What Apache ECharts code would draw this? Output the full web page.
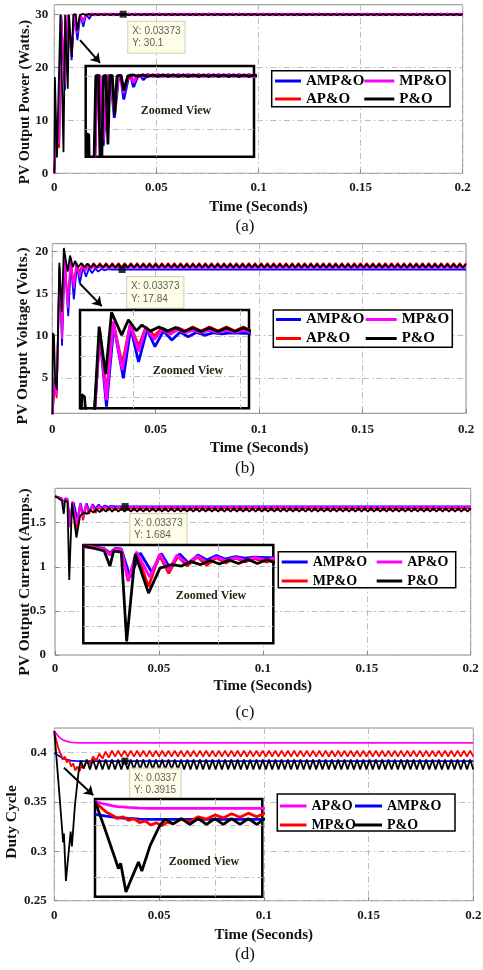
<!DOCTYPE html>
<html><head><meta charset="utf-8">
<script src="https://cdn.jsdelivr.net/npm/echarts@6.0.0/dist/echarts.min.js"></script>
<style>html,body{margin:0;padding:0;background:#fff}#c{width:483px;height:970px}</style>
</head><body><div id="c"></div>
<script>
// ================= DATA (time in ms, shown on axis as seconds) =================
// shared steady-state sample times (ms)
const tSS = [
29,30.5,32,33.5,35,36.5,38,39.5,41,42.5,
44,45.5,47,48.5,50,51.5,53,54.5,56,57.5,
59,60.5,62,63.5,65,66.5,68,69.5,71,72.5,
74,75.5,77,78.5,80,81.5,83,84.5,86,87.5,
89,90.5,92,93.5,95,96.5,98,99.5,101,102.5,
104,105.5,107,108.5,110,111.5,113,114.5,116,117.5,
119,120.5,122,123.5,125,126.5,128,129.5,131,132.5,
134,135.5,137,138.5,140,141.5,143,144.5,146,147.5,
149,150.5,152,153.5,155,156.5,158,159.5,161,162.5,
164,165.5,167,168.5,170,171.5,173,174.5,176,177.5,
179,180.5,182,183.5,185,186.5,188,189.5,191,192.5,
194,195.5,197,198.5,200];

// ---- (a) PV output power (W) ----
const aBlueTr = [[0,0],[1,7],[2.4,6.2],[3.4,30],[4.2,30],[5.2,15.7],[6.6,30],[7.4,30.1],[8.5,21.4],[9.8,30],[10.4,30.1],[11.3,25.2],[12.8,30],[13.4,30.1],[14.2,27.7],[15.6,30.1],[16.3,30.1],[17.1,29.2],[18.4,30.1],[20,30],[200,30]];
const aRedTr = [[0,0],[1,6],[2.4,4.8],[3.3,30],[4.2,30],[5.2,17],[6.5,30],[7.4,30],[8.5,23],[9.7,30],[10.4,30],[11.3,27],[12.6,30],[14.2,29],[15.5,30],[200,30]];
const aMagTr = [[0,0],[1,7],[2.4,5.8],[3.3,30],[4.2,30.1],[5.2,16.8],[6.5,30],[7.4,30.1],[8.5,22.5],[9.7,30],[10.4,30.1],[11.3,26.5],[12.6,30.1],[13.4,30.2],[14.2,28.6],[15.5,30.2],[17,29.8],[18.5,30.3],[20,29.85],[21.5,30.3],[23,29.85],[24.5,30.3],[26,29.85],[27.5,30.3]];
const aBlkTr = [[0,0],[0.3,18.2],[0.9,18],[1.3,3],[2.2,3.2],[3,30],[3.8,30.1],[4.5,4],[5.3,30],[6,30.1],[6.6,16],[7.2,30],[7.9,30.1],[8.6,22],[9.3,30],[10.5,30.1],[11.3,27],[12.5,29.9],[14,30.2],[15.5,29.9],[17,30.2],[18.5,29.9],[20,30.2],[21.5,29.9],[23,30.2],[24.5,29.9],[26,30.2],[27.5,29.9]];
const aMagSS = [
29.85,30.3,29.85,30.3,29.85,30.3,29.85,30.3,29.85,30.3,
29.85,30.3,29.85,30.3,29.85,30.3,29.85,30.3,29.85,30.3,
29.85,30.3,29.85,30.3,29.85,30.3,29.85,30.3,29.85,30.3,
29.85,30.3,29.85,30.3,29.85,30.3,29.85,30.3,29.85,30.3,
29.85,30.3,29.85,30.3,29.85,30.3,29.85,30.3,29.85,30.3,
29.85,30.3,29.85,30.3,29.85,30.3,29.85,30.3,29.85,30.3,
29.85,30.3,29.85,30.3,29.85,30.3,29.85,30.3,29.85,30.3,
29.85,30.3,29.85,30.3,29.85,30.3,29.85,30.3,29.85,30.3,
29.85,30.3,29.85,30.3,29.85,30.3,29.85,30.3,29.85,30.3,
29.85,30.3,29.85,30.3,29.85,30.3,29.85,30.3,29.85,30.3,
29.85,30.3,29.85,30.3,29.85,30.3,29.85,30.3,29.85,30.3,
29.85,30.3,29.85,30.3,29.85];
const aBlkSS = [
30.2,29.9,30.2,29.9,30.2,29.9,30.2,29.9,30.2,29.9,
30.2,29.9,30.2,29.9,30.2,29.9,30.2,29.9,30.2,29.9,
30.2,29.9,30.2,29.9,30.2,29.9,30.2,29.9,30.2,29.9,
30.2,29.9,30.2,29.9,30.2,29.9,30.2,29.9,30.2,29.9,
30.2,29.9,30.2,29.9,30.2,29.9,30.2,29.9,30.2,29.9,
30.2,29.9,30.2,29.9,30.2,29.9,30.2,29.9,30.2,29.9,
30.2,29.9,30.2,29.9,30.2,29.9,30.2,29.9,30.2,29.9,
30.2,29.9,30.2,29.9,30.2,29.9,30.2,29.9,30.2,29.9,
30.2,29.9,30.2,29.9,30.2,29.9,30.2,29.9,30.2,29.9,
30.2,29.9,30.2,29.9,30.2,29.9,30.2,29.9,30.2,29.9,
30.2,29.9,30.2,29.9,30.2,29.9,30.2,29.9,30.2,29.9,
30.2,29.9,30.2,29.9,30.2];

// ---- (b) PV output voltage (V) ----
const bBlueTr = [[0,0],[1,4],[2.1,3.2],[3.5,17.8],[4.7,8.8],[6,18.8],[7.7,12.3],[9,18.5],[10.4,14.3],[11.9,18.3],[13.3,16.2],[14.8,18.1],[16.3,17],[17.8,18],[19.2,17.4],[20.7,17.95],[22.2,17.6],[23.7,17.9],[25.2,17.75],[26.7,17.88],[29,17.84],[200,17.84]];
const bRedTr = [[0,0],[1,4.5],[2.1,2.6],[3.5,18.2],[4.7,10.3],[5.9,19.2],[7.5,14],[8.9,18.9],[10.4,16.2],[11.7,18.6],[13.2,17.5],[14.6,18.5],[16,18],[17.4,18.5],[18.7,18.1],[20,18.6],[21.5,18.1],[23,18.6],[24.5,18.1],[26,18.6],[27.5,18.1]];
const bMagTr = [[0,0],[1,5],[2.1,3],[3.5,18],[4.7,9.6],[5.9,19.3],[7.5,13.3],[8.9,18.9],[10.4,15.6],[11.7,18.5],[13.2,17.1],[14.6,18.3],[16,17.7],[17.4,18.25],[18.7,17.9],[20,18.2],[21.5,17.95],[23,18.2],[24.5,17.95],[26,18.2],[27.5,17.95]];
const bBlkTr = [[0,0],[0.3,10.3],[0.8,10],[1.4,4.5],[2.2,3.6],[3.4,18.65],[4.55,12.8],[5.6,20.4],[7.4,17.6],[8.6,19.5],[10,18.15],[11,18.85],[12.5,18.1],[14,18.6],[15.5,18.1],[17,18.55],[18.5,18.05],[20,18.5],[21.5,18.05],[23,18.5],[24.5,18.05],[26,18.5],[27.5,18.05]];
const bRedSS = [
18.6,18.1,18.6,18.1,18.6,18.1,18.6,18.1,18.6,18.1,
18.6,18.1,18.6,18.1,18.6,18.1,18.6,18.1,18.6,18.1,
18.6,18.1,18.6,18.1,18.6,18.1,18.6,18.1,18.6,18.1,
18.6,18.1,18.6,18.1,18.6,18.1,18.6,18.1,18.6,18.1,
18.6,18.1,18.6,18.1,18.6,18.1,18.6,18.1,18.6,18.1,
18.6,18.1,18.6,18.1,18.6,18.1,18.6,18.1,18.6,18.1,
18.6,18.1,18.6,18.1,18.6,18.1,18.6,18.1,18.6,18.1,
18.6,18.1,18.6,18.1,18.6,18.1,18.6,18.1,18.6,18.1,
18.6,18.1,18.6,18.1,18.6,18.1,18.6,18.1,18.6,18.1,
18.6,18.1,18.6,18.1,18.6,18.1,18.6,18.1,18.6,18.1,
18.6,18.1,18.6,18.1,18.6,18.1,18.6,18.1,18.6,18.1,
18.6,18.1,18.6,18.1,18.6];
const bMagSS = [
18.2,17.95,18.2,17.95,18.2,17.95,18.2,17.95,18.2,17.95,
18.2,17.95,18.2,17.95,18.2,17.95,18.2,17.95,18.2,17.95,
18.2,17.95,18.2,17.95,18.2,17.95,18.2,17.95,18.2,17.95,
18.2,17.95,18.2,17.95,18.2,17.95,18.2,17.95,18.2,17.95,
18.2,17.95,18.2,17.95,18.2,17.95,18.2,17.95,18.2,17.95,
18.2,17.95,18.2,17.95,18.2,17.95,18.2,17.95,18.2,17.95,
18.2,17.95,18.2,17.95,18.2,17.95,18.2,17.95,18.2,17.95,
18.2,17.95,18.2,17.95,18.2,17.95,18.2,17.95,18.2,17.95,
18.2,17.95,18.2,17.95,18.2,17.95,18.2,17.95,18.2,17.95,
18.2,17.95,18.2,17.95,18.2,17.95,18.2,17.95,18.2,17.95,
18.2,17.95,18.2,17.95,18.2,17.95,18.2,17.95,18.2,17.95,
18.2,17.95,18.2,17.95,18.2];
const bBlkSS = [
18.5,18.05,18.5,18.05,18.5,18.05,18.5,18.05,18.5,18.05,
18.5,18.05,18.5,18.05,18.5,18.05,18.5,18.05,18.5,18.05,
18.5,18.05,18.5,18.05,18.5,18.05,18.5,18.05,18.5,18.05,
18.5,18.05,18.5,18.05,18.5,18.05,18.5,18.05,18.5,18.05,
18.5,18.05,18.5,18.05,18.5,18.05,18.5,18.05,18.5,18.05,
18.5,18.05,18.5,18.05,18.5,18.05,18.5,18.05,18.5,18.05,
18.5,18.05,18.5,18.05,18.5,18.05,18.5,18.05,18.5,18.05,
18.5,18.05,18.5,18.05,18.5,18.05,18.5,18.05,18.5,18.05,
18.5,18.05,18.5,18.05,18.5,18.05,18.5,18.05,18.5,18.05,
18.5,18.05,18.5,18.05,18.5,18.05,18.5,18.05,18.5,18.05,
18.5,18.05,18.5,18.05,18.5,18.05,18.5,18.05,18.5,18.05,
18.5,18.05,18.5,18.05,18.5];

// ---- (c) PV output current (A) ----
const cBlueTr = [[0,1.8],[1.5,1.79],[3.3,1.775],[4.2,1.73],[5,1.775],[6,1.77],[7.4,1.49],[9,1.73],[10.8,1.54],[12.3,1.725],[13.7,1.58],[15.2,1.72],[16.6,1.63],[18.1,1.71],[19.5,1.66],[21,1.705],[22.4,1.67],[24,1.695],[25.5,1.68],[27,1.69],[29,1.684],[200,1.684]];
const cRedTr = [[0,1.8],[1.5,1.79],[3.3,1.77],[4.2,1.72],[5,1.77],[6,1.76],[7.1,1.45],[8.4,1.74],[10.3,1.395],[12,1.71],[13.5,1.527],[14.9,1.7],[16.4,1.6],[18,1.69],[19.5,1.61],[21,1.685],[22.5,1.63],[24,1.68],[25.5,1.64],[27,1.675]];
const cMagTr = [[0,1.79],[1.5,1.785],[3.3,1.77],[4.2,1.71],[5,1.77],[6,1.765],[7.1,1.46],[8.4,1.74],[10.5,1.49],[12.1,1.72],[13.5,1.56],[14.8,1.71],[16.4,1.625],[18,1.7],[19.5,1.64],[21,1.69],[22.5,1.655],[24,1.685],[25.5,1.66],[27,1.685]];
const cBlkTr = [[0,1.8],[1.5,1.78],[3.3,1.75],[4.2,1.6],[4.8,1.75],[6,1.74],[6.85,0.85],[8.2,1.72],[10.3,1.33],[12.1,1.58],[14,1.615],[15.5,1.6],[17,1.645],[18.5,1.615],[20,1.655],[21.5,1.62],[23,1.66],[24.5,1.625],[26,1.665],[27.5,1.625]];
const cRedSS = [
1.64,1.675,1.64,1.675,1.64,1.675,1.64,1.675,1.64,1.675,
1.64,1.675,1.64,1.675,1.64,1.675,1.64,1.675,1.64,1.675,
1.64,1.675,1.64,1.675,1.64,1.675,1.64,1.675,1.64,1.675,
1.64,1.675,1.64,1.675,1.64,1.675,1.64,1.675,1.64,1.675,
1.64,1.675,1.64,1.675,1.64,1.675,1.64,1.675,1.64,1.675,
1.64,1.675,1.64,1.675,1.64,1.675,1.64,1.675,1.64,1.675,
1.64,1.675,1.64,1.675,1.64,1.675,1.64,1.675,1.64,1.675,
1.64,1.675,1.64,1.675,1.64,1.675,1.64,1.675,1.64,1.675,
1.64,1.675,1.64,1.675,1.64,1.675,1.64,1.675,1.64,1.675,
1.64,1.675,1.64,1.675,1.64,1.675,1.64,1.675,1.64,1.675,
1.64,1.675,1.64,1.675,1.64,1.675,1.64,1.675,1.64,1.675,
1.64,1.675,1.64,1.675,1.64];
const cMagSS = [
1.665,1.685,1.665,1.685,1.665,1.685,1.665,1.685,1.665,1.685,
1.665,1.685,1.665,1.685,1.665,1.685,1.665,1.685,1.665,1.685,
1.665,1.685,1.665,1.685,1.665,1.685,1.665,1.685,1.665,1.685,
1.665,1.685,1.665,1.685,1.665,1.685,1.665,1.685,1.665,1.685,
1.665,1.685,1.665,1.685,1.665,1.685,1.665,1.685,1.665,1.685,
1.665,1.685,1.665,1.685,1.665,1.685,1.665,1.685,1.665,1.685,
1.665,1.685,1.665,1.685,1.665,1.685,1.665,1.685,1.665,1.685,
1.665,1.685,1.665,1.685,1.665,1.685,1.665,1.685,1.665,1.685,
1.665,1.685,1.665,1.685,1.665,1.685,1.665,1.685,1.665,1.685,
1.665,1.685,1.665,1.685,1.665,1.685,1.665,1.685,1.665,1.685,
1.665,1.685,1.665,1.685,1.665,1.685,1.665,1.685,1.665,1.685,
1.665,1.685,1.665,1.685,1.665];
const cBlkSS = [
1.665,1.625,1.665,1.625,1.665,1.625,1.665,1.625,1.665,1.625,
1.665,1.625,1.665,1.625,1.665,1.625,1.665,1.625,1.665,1.625,
1.665,1.625,1.665,1.625,1.665,1.625,1.665,1.625,1.665,1.625,
1.665,1.625,1.665,1.625,1.665,1.625,1.665,1.625,1.665,1.625,
1.665,1.625,1.665,1.625,1.665,1.625,1.665,1.625,1.665,1.625,
1.665,1.625,1.665,1.625,1.665,1.625,1.665,1.625,1.665,1.625,
1.665,1.625,1.665,1.625,1.665,1.625,1.665,1.625,1.665,1.625,
1.665,1.625,1.665,1.625,1.665,1.625,1.665,1.625,1.665,1.625,
1.665,1.625,1.665,1.625,1.665,1.625,1.665,1.625,1.665,1.625,
1.665,1.625,1.665,1.625,1.665,1.625,1.665,1.625,1.665,1.625,
1.665,1.625,1.665,1.625,1.665,1.625,1.665,1.625,1.665,1.625,
1.665,1.625,1.665,1.625,1.665];

// ---- (d) duty cycle ----
const dBlueTr = [[0,0.4],[2,0.397],[4,0.3945],[6,0.393],[8,0.392],[10,0.3917],[12,0.3915],[200,0.3915]];
const dMagTr = [[0,0.422],[1,0.419],[2,0.4165],[3,0.4145],[4,0.413],[6,0.4115],[8,0.4105],[10,0.4101],[13,0.41],[200,0.41]];
const dRedTr = [[0,0.421],[1,0.412],[2,0.404],[3,0.399],[4,0.393],[5,0.396],[6,0.39],[7,0.393],[8,0.386],[9,0.389],[10,0.382],[11,0.386],[12,0.381],[13,0.387],[14,0.384],[15.5,0.392],[17,0.388],[18.5,0.396],[20,0.392],[21.5,0.399],[23,0.394],[24.5,0.401],[26,0.395],[27.5,0.402]];
const dBlkTr = [[0,0.422],[1.8,0.375],[3.6,0.326],[4.2,0.309],[4.6,0.318],[5.55,0.27],[6.7,0.296],[7.8,0.32],[8.4,0.305],[9.9,0.348],[11.6,0.381],[12.6,0.392],[14,0.384],[15.5,0.393],[17,0.383],[18.5,0.393],[20,0.383],[21.5,0.393],[23,0.383],[24.5,0.393],[26,0.383],[27.5,0.393]];
const dRedSS = [
0.396,0.402,0.396,0.402,0.396,0.402,0.396,0.402,0.396,0.402,
0.396,0.402,0.396,0.402,0.396,0.402,0.396,0.402,0.396,0.402,
0.396,0.402,0.396,0.402,0.396,0.402,0.396,0.402,0.396,0.402,
0.396,0.402,0.396,0.402,0.396,0.402,0.396,0.402,0.396,0.402,
0.396,0.402,0.396,0.402,0.396,0.402,0.396,0.402,0.396,0.402,
0.396,0.402,0.396,0.402,0.396,0.402,0.396,0.402,0.396,0.402,
0.396,0.402,0.396,0.402,0.396,0.402,0.396,0.402,0.396,0.402,
0.396,0.402,0.396,0.402,0.396,0.402,0.396,0.402,0.396,0.402,
0.396,0.402,0.396,0.402,0.396,0.402,0.396,0.402,0.396,0.402,
0.396,0.402,0.396,0.402,0.396,0.402,0.396,0.402,0.396,0.402,
0.396,0.402,0.396,0.402,0.396,0.402,0.396,0.402,0.396,0.402,
0.396,0.402,0.396,0.402,0.396];
const dBlkSS = [
0.383,0.393,0.383,0.393,0.383,0.393,0.383,0.393,0.383,0.393,
0.383,0.393,0.383,0.393,0.383,0.393,0.383,0.393,0.383,0.393,
0.383,0.393,0.383,0.393,0.383,0.393,0.383,0.393,0.383,0.393,
0.383,0.393,0.383,0.393,0.383,0.393,0.383,0.393,0.383,0.393,
0.383,0.393,0.383,0.393,0.383,0.393,0.383,0.393,0.383,0.393,
0.383,0.393,0.383,0.393,0.383,0.393,0.383,0.393,0.383,0.393,
0.383,0.393,0.383,0.393,0.383,0.393,0.383,0.393,0.383,0.393,
0.383,0.393,0.383,0.393,0.383,0.393,0.383,0.393,0.383,0.393,
0.383,0.393,0.383,0.393,0.383,0.393,0.383,0.393,0.383,0.393,
0.383,0.393,0.383,0.393,0.383,0.393,0.383,0.393,0.383,0.393,
0.383,0.393,0.383,0.393,0.383,0.393,0.383,0.393,0.383,0.393,
0.383,0.393,0.383,0.393,0.383];

// data tips
const tipX = [0.03373, 0.03373, 0.03373, 0.0337];
const tipY = [30.1, 17.84, 1.684, 0.3915];

// ticks / labels
const xTicks = [0, 50, 100, 150, 200];            // ms -> 0 ... 0.2 s
const aYTicks = [0, 10, 20, 30];
const bYTicks = [5, 10, 15, 20];
const cYTicks = [0, 0.5, 1, 1.5];
const dYTicks = [0.25, 0.3, 0.35, 0.4];
const aInsXTicks = [21], aInsYTicks = [19.2, 30];
const bInsXTicks = [9.4, 28.5], bInsYTicks = [10, 12.5, 15, 17.5];
const cInsXTicks = [11.8, 21.3], cInsYTicks = [1.0, 1.2, 1.4, 1.6];
const dInsXTicks = [11.7, 21.6], dInsYTicks = [0.295, 0.382];
const xTitle = 'Time (Seconds)';
const yTitles = ['PV Output Power (Watts.)', 'PV Output Voltage (Volts.)', 'PV Output Current (Amps.)', 'Duty Cycle'];
const panelLabels = ['(a)', '(b)', '(c)', '(d)'];
const zoomText = 'Zoomed View';
// series names per panel (by line colour)
const namesAB = { blue: 'AMP&O', red: 'AP&O', mag: 'MP&O', blk: 'P&O' };
const namesCD = { blue: 'AMP&O', red: 'MP&O', mag: 'AP&O', blk: 'P&O' };
// legend columns (names) per panel
const legA = [['AMP&O', 'AP&O'], ['MP&O', 'P&O']];
const legB = [['AMP&O', 'AP&O'], ['MP&O', 'P&O']];
const legC = [['AMP&O', 'MP&O'], ['AP&O', 'P&O']];
const legD = [['AP&O', 'MP&O'], ['AMP&O', 'P&O']];

// ================= BUILD =================
const COL = { blue: '#0000ff', red: '#ff0000', mag: '#ff00ff', blk: '#000000' };
const SERIF = 'Liberation Serif';
function pts(tr, ss) {
  const d = tr.map(p => [p[0], p[1]]);
  if (ss) ss.forEach((v, i) => d.push([tSS[i], v]));
  return d;
}

const panels = [
  { g: [54.3, 4.7, 408.4, 168.6], y: [0, 31.9], yt: aYTicks, ins: [85.7, 66, 168.3, 90.7], ix: [0, 50], iy: [13.5, 32], ixt: aInsXTicks, iyt: aInsYTicks,
    yTitle: [25, 102, 14.5], xGap: 26, xm: 8, ym: 6, names: namesAB, leg: legA, legX: [275, 364.3], legW: [26, 30], legFont: 15, legY: 73.5, legGap: 3, box: [271.7, 70.7, 178.3, 36],
    zv: [176, 110.7], lab: 227, arrow: [[12.6, 25.2], [22.4, 20.9]],
    data: { blue: pts(aBlueTr), red: pts(aRedTr), mag: pts(aMagTr, aMagSS), blk: pts(aBlkTr, aBlkSS) } },
  { g: [52.3, 243.7, 413.7, 169.6], y: [0.8, 20.9], yt: bYTicks, ins: [80, 310, 169, 98.3], ix: [0, 30], iy: [8.6, 20.7], ixt: bInsXTicks, iyt: bInsYTicks,
    yTitle: [23, 336, 15.5], xGap: 27, xm: 10, ym: 4, names: namesAB, leg: legB, legX: [276, 365.7], legW: [25, 31], legFont: 15, legY: 312, legGap: 4, box: [273.3, 310, 179, 37.3],
    zv: [188, 370.7], lab: 469, arrow: [[13.3, 16.19], [23.9, 13.5]],
    data: { blue: pts(bBlueTr), red: pts(bRedTr, bRedSS), mag: pts(bMagTr, bMagSS), blk: pts(bBlkTr, bBlkSS) } },
  { g: [55, 488.3, 415.7, 166.7], y: [0, 1.89], yt: cYTicks, ins: [83.3, 545, 190, 98.3], ix: [0, 30], iy: [0.83, 1.81], ixt: cInsXTicks, iyt: cInsYTicks,
    yTitle: [25, 582, 15.5], xGap: 24, xm: 7, ym: 9, names: namesCD, leg: legC, legX: [281.7, 376.7], legW: [26, 25.5], legFont: 14, legY: 555, legGap: 5, box: [278.3, 551.7, 177.4, 36],
    zv: [211, 596], lab: 713, arrow: null,
    data: { blue: pts(cBlueTr), red: pts(cRedTr, cRedSS), mag: pts(cMagTr, cMagSS), blk: pts(cBlkTr, cBlkSS) } },
  { g: [54.3, 728, 419, 172.7], y: [0.25, 0.425], yt: dYTicks, ins: [95, 799, 167.3, 97.7], ix: [0, 30], iy: [0.262, 0.4257], ixt: dInsXTicks, iyt: dInsYTicks,
    yTitle: [12, 822, 15.5], xGap: 27, xm: 8, ym: 7.5, names: namesCD, leg: legD, legX: [280, 355], legW: [26.5, 27], legFont: 14, legY: 799, legGap: 5, box: [277.3, 794, 177.7, 37],
    zv: [204, 861.7], lab: 955, arrow: [[4.6, 0.3848], [18.6, 0.3568]],
    data: { blue: pts(dBlueTr), red: pts(dRedTr, dRedSS), mag: pts(dMagTr), blk: pts(dBlkTr, dBlkSS) } }
];

const grid = [], xAxis = [], yAxis = [], series = [], legend = [], graphicEls = [];
const splitStyle = { color: '#bdbdbd', width: 1, type: [6, 3, 1.5, 3] };
const labFont = { fontFamily: SERIF, fontWeight: 'bold', fontSize: 13, color: '#1a1a1a' };
const nameFont = { fontFamily: SERIF, fontWeight: 'bold', fontSize: 15, color: '#111' };

panels.forEach((p, i) => {
  const gm = 2 * i, gi = 2 * i + 1;
  grid.push({ left: p.g[0], top: p.g[1], width: p.g[2], height: p.g[3], show: true, borderColor: '#8a8a8a', borderWidth: 1,
    backgroundColor: 'transparent', containLabel: false, outerBoundsMode: 'none', z: 0 });
  grid.push({ left: p.ins[0], top: p.ins[1], width: p.ins[2], height: p.ins[3], show: true, borderColor: '#000', borderWidth: 2.5,
    backgroundColor: '#fff', containLabel: false, outerBoundsMode: 'none', z: 5 });
  xAxis.push({ gridIndex: gm, type: 'value', min: 0, max: 200,
    axisLine: { show: false },
    axisTick: { show: true, inside: true, length: 4, customValues: xTicks, lineStyle: { color: '#8a8a8a' } },
    axisLabel: { customValues: xTicks, margin: p.xm, formatter: v => String(v / 1000), ...labFont },
    splitLine: { show: true, lineStyle: splitStyle },
    name: xTitle, nameLocation: 'middle', nameGap: p.xGap, nameMoveOverlap: false, nameTextStyle: nameFont });
  xAxis.push({ gridIndex: gi, type: 'value', min: p.ix[0], max: p.ix[1], z: 6,
    axisLine: { show: false }, axisTick: { show: false, customValues: p.ixt }, axisLabel: { show: false, customValues: p.ixt },
    splitLine: { show: true, lineStyle: splitStyle } });
  yAxis.push({ gridIndex: gm, type: 'value', min: p.y[0], max: p.y[1],
    axisLine: { show: false },
    axisTick: { show: true, inside: true, length: 4, customValues: p.yt, lineStyle: { color: '#8a8a8a' } },
    axisLabel: { customValues: p.yt, margin: p.ym, ...labFont },
    splitLine: { show: true, lineStyle: splitStyle } });
  yAxis.push({ gridIndex: gi, type: 'value', min: p.iy[0], max: p.iy[1], z: 6,
    axisLine: { show: false }, axisTick: { show: false, customValues: p.iyt }, axisLabel: { show: false, customValues: p.iyt },
    splitLine: { show: true, lineStyle: splitStyle } });

  ['blue', 'red', 'mag', 'blk'].forEach((role, k) => {
    const base = { type: 'line', name: p.names[role], data: p.data[role], showSymbol: false, symbol: 'none',
      silent: true, animation: false, clip: true };
    const main = { ...base, xAxisIndex: gm, yAxisIndex: gm, z: 2 + k * 0.01,
      lineStyle: { color: COL[role], width: 1.8 }, itemStyle: { color: COL[role] } };
    if (role === 'blk' && p.arrow) {
      main.markLine = { silent: true, animation: false, symbol: ['none', 'arrow'], symbolSize: 9,
        lineStyle: { color: '#000', width: 2, type: 'solid' }, label: { show: false },
        data: [[{ coord: p.arrow[0] }, { coord: p.arrow[1] }]] };
    }
    series.push(main);
    series.push({ ...base, xAxisIndex: gi, yAxisIndex: gi, z: 7 + k * 0.01,
      lineStyle: { color: COL[role], width: 2.8 }, itemStyle: { color: COL[role] } });
  });

  // data tip
  series.push({ type: 'scatter', name: 'tip' + i, xAxisIndex: gm, yAxisIndex: gm, silent: true, animation: false, z: 4,
    data: [[tipX[i] * 1000, tipY[i]]], symbol: 'rect', symbolSize: 7, itemStyle: { color: '#000' },
    label: { show: true, position: [8.5, 11], align: 'left', verticalAlign: 'top',
      formatter: () => 'X: ' + tipX[i] + '\nY: ' + tipY[i],
      fontFamily: 'Liberation Sans', fontSize: 10, color: '#333', lineHeight: 12.5,
      backgroundColor: '#ffffe4', borderColor: '#c8c8b4', borderWidth: 1, padding: [3, 4, 3, 4] } });

  // y title
  graphicEls.push({ type: 'text', z: 9, silent: true, x: p.yTitle[0], y: p.yTitle[1], rotation: Math.PI / 2,
    style: { text: yTitles[i], align: 'center', verticalAlign: 'middle', font: 'bold ' + p.yTitle[2] + 'px "Liberation Serif"', fill: '#111' } });

  // legend
  const nameToColor = {};
  Object.keys(p.names).forEach(r => { nameToColor[p.names[r]] = COL[r]; });
  graphicEls.push({ type: 'rect', z: 8, silent: true,
    shape: { x: p.box[0], y: p.box[1], width: p.box[2], height: p.box[3] },
    style: { fill: '#fff', stroke: '#000', lineWidth: 1.5 } });
  p.leg.forEach((col, c) => {
    legend.push({ left: p.legX[c], top: p.legY, orient: 'vertical', padding: 0, itemGap: p.legGap,
      itemWidth: p.legW[c], itemHeight: 3, icon: 'rect', selectedMode: false, z: 10 + c,
      data: col.map(n => ({ name: n, itemStyle: { color: nameToColor[n] } })),
      textStyle: { fontFamily: SERIF, fontWeight: 'bold', fontSize: p.legFont, color: '#000' } });
  });
  graphicEls.push({ type: 'text', z: 9, silent: true, x: p.zv[0], y: p.zv[1],
    style: { text: zoomText, align: 'center', verticalAlign: 'middle', font: 'bold 12px "Liberation Serif"', fill: '#2a2214' } });
  graphicEls.push({ type: 'text', z: 9, silent: true, x: 245, y: p.lab,
    style: { text: panelLabels[i], align: 'center', verticalAlign: 'middle', font: '17px "Liberation Serif"', fill: '#111' } });
});

const chart = echarts.init(document.getElementById('c'), null, { renderer: 'canvas', width: 483, height: 970 });
chart.setOption({ animation: false, backgroundColor: '#fff', grid, xAxis, yAxis, series, legend,
  graphic: { elements: graphicEls } });
</script></body></html>
